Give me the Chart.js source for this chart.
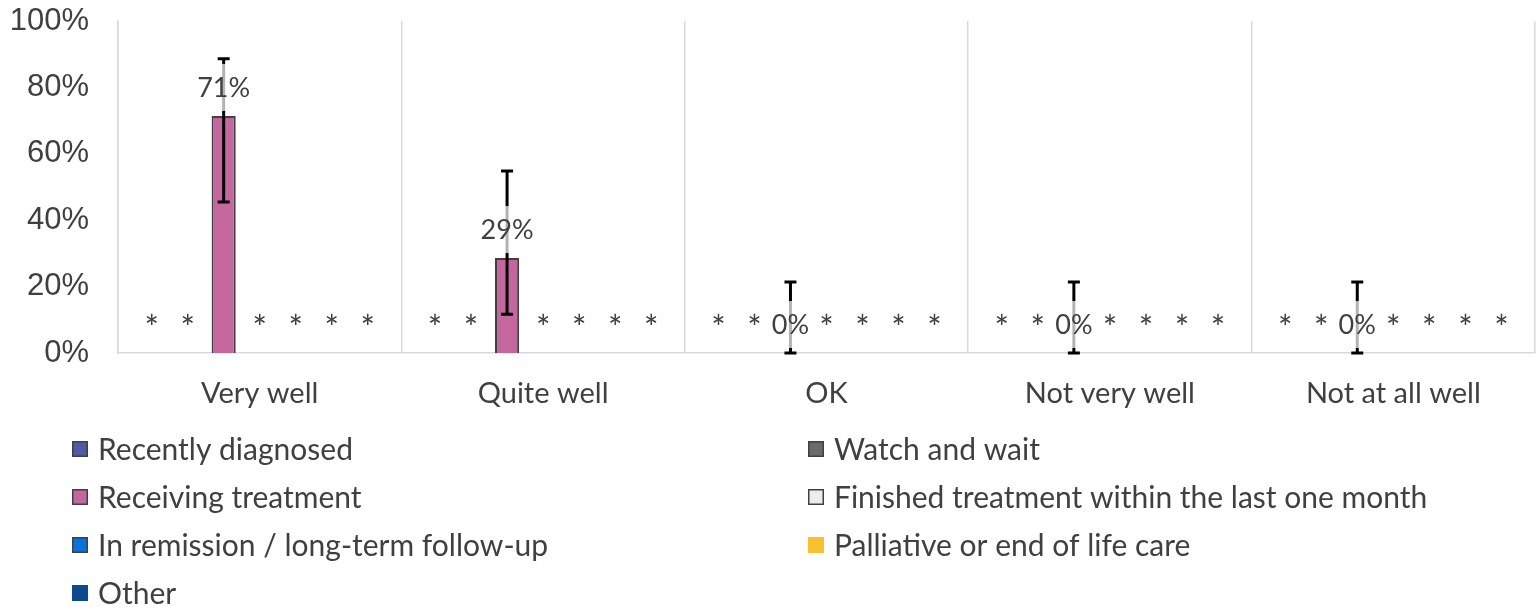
<!DOCTYPE html>
<html>
<head>
<meta charset="utf-8">
<script src="https://cdn.jsdelivr.net/npm/chart.js@4/dist/chart.umd.min.js"></script>
<style>
html,body{margin:0;padding:0;background:#fff;}
#wrap{position:relative;width:1540px;height:609px;}
</style>
</head>
<body>
<div id="wrap"><canvas id="c" width="1540" height="609"></canvas></div>
<script>
// ---- data ----
const categories = ['Very well', 'Quite well', 'OK', 'Not very well', 'Not at all well'];
const seriesNames = ['Recently diagnosed', 'Watch and wait', 'Receiving treatment',
  'Finished treatment within the last one month', 'In remission / long-term follow-up',
  'Palliative or end of life care', 'Other'];
// null = suppressed (shown as *)
const recentlyDiagnosed = [null, null, null, null, null];
const watchAndWait = [null, null, null, null, null];
const receivingTreatment = [71.4, 28.6, 0, 0, 0];
const finishedTreatment = [null, null, null, null, null];
const inRemission = [null, null, null, null, null];
const palliativeCare = [null, null, null, null, null];
const otherStage = [null, null, null, null, null];
const receivingLower = [45.5, 11.7, 0, 0, 0];
const receivingUpper = [88.6, 54.8, 21.4, 21.4, 21.4];
const yTickValues = [0, 20, 40, 60, 80, 100];

const seriesValues = [recentlyDiagnosed, watchAndWait, receivingTreatment, finishedTreatment,
  inRemission, palliativeCare, otherStage];
const errLow = [null, null, receivingLower, null, null, null, null];
const errHigh = [null, null, receivingUpper, null, null, null, null];

// ---- styles ----
const fills = ['#4E5BA6', '#6B6B6B', '#C4679F', '#E8EEEE', '#0A72D8', '#FBBF32', '#0B4A8C'];
const borders = ['#404040', '#404040', '#404040', '#404040', '#404040', null, null];
const TEXT = '#404040';
const CAL = 'Lato, "Open Sans", sans-serif';
const SUPPRESSED_LEVEL = 10;

const datasets = seriesNames.map((n, i) => ({
  label: n,
  data: seriesValues[i],
  backgroundColor: fills[i],
  borderColor: borders[i] || fills[i],
  borderWidth: borders[i] ? 2 : 0,
  categoryPercentage: 0.89,
  barPercentage: 0.67,
  errLow: errLow[i],
  errHigh: errHigh[i]
}));

const overlay = {
  id: 'overlay',
  afterDatasetsDraw(chart) {
    const ctx = chart.ctx;
    const y = chart.scales.y;
    chart.data.datasets.forEach((ds, di) => {
      const meta = chart.getDatasetMeta(di);
      meta.data.forEach((el, i) => {
        const x = el.x;
        const v = ds.data[i];
        if (v === null || v === undefined) {
          ctx.save();
          ctx.fillStyle = TEXT;
          ctx.font = '34px ' + CAL;
          ctx.textAlign = 'center';
          ctx.textBaseline = 'middle';
          ctx.fillText('*', x, y.getPixelForValue(SUPPRESSED_LEVEL) + 9);
          ctx.restore();
          return;
        }
        // error bar
        if (ds.errLow && ds.errHigh) {
          const yl = y.getPixelForValue(ds.errLow[i]);
          const yh = y.getPixelForValue(ds.errHigh[i]);
          ctx.save();
          ctx.strokeStyle = '#000';
          ctx.lineWidth = 3;
          ctx.beginPath();
          ctx.moveTo(x, yl); ctx.lineTo(x, yh);
          ctx.moveTo(x - 6, yl); ctx.lineTo(x + 6, yl);
          ctx.moveTo(x - 6, yh); ctx.lineTo(x + 6, yh);
          ctx.stroke();
          ctx.restore();
        }
        // label
        const txt = Math.round(v) + '%';
        const ly = y.getPixelForValue(v) - 29;
        ctx.save();
        ctx.font = '27px ' + CAL;
        const w = ctx.measureText(txt).width;
        ctx.fillStyle = 'rgba(255,255,255,0.7)';
        ctx.fillRect(x - w / 2 - 3, ly - 23, w + 6, 47);
        ctx.fillStyle = TEXT;
        ctx.textAlign = 'center';
        ctx.textBaseline = 'middle';
        ctx.fillText(txt, x, ly + 1);
        ctx.restore();
      });
    });
  },
  afterDraw(chart) {
    const ctx = chart.ctx;
    const colX = [72, 808];
    const rowY0 = 449, rowStep = 48;
    chart.data.datasets.forEach((ds, i) => {
      const col = i % 2, row = Math.floor(i / 2);
      const bx = colX[col], cy = rowY0 + row * rowStep;
      ctx.save();
      ctx.fillStyle = fills[i];
      ctx.fillRect(bx, cy - 8, 16, 16);
      if (borders[i]) {
        ctx.strokeStyle = borders[i];
        ctx.lineWidth = 1.5;
        ctx.strokeRect(bx + 0.75, cy - 7.25, 14.5, 14.5);
      }
      ctx.fillStyle = TEXT;
      ctx.font = '30px ' + CAL;
      ctx.textAlign = 'left';
      ctx.textBaseline = 'middle';
      ctx.fillText(ds.label, bx + 26, cy + 1);
      ctx.restore();
    });
  }
};

new Chart(document.getElementById('c'), {
  type: 'bar',
  data: { labels: categories, datasets },
  options: {
    responsive: false,
    animation: false,
    events: [],
    layout: { padding: { top: 21, right: 5, left: 0, bottom: 609 - 353 - 64 } },
    plugins: { legend: { display: false }, tooltip: { enabled: false } },
    scales: {
      x: {
        grid: { display: true, offset: true, color: '#D9D9D9', lineWidth: 1.5, drawTicks: false },
        border: { display: true, color: '#D9D9D9', width: 1.5 },
        ticks: { color: TEXT, font: { family: CAL, size: 29 }, padding: 23, maxRotation: 0 },
        afterFit(s) { s.height = 64; s.paddingLeft = 0; s.paddingRight = 0; }
      },
      y: {
        min: 0, max: 100,
        afterBuildTicks(s) { s.ticks = yTickValues.map(v => ({ value: v })); },
        grid: { display: false, drawTicks: false },
        border: { display: true, color: '#D9D9D9', width: 1.5 },
        ticks: {
          color: TEXT, padding: 29,
          font: { family: '"Liberation Sans", Arial, sans-serif', size: 31 },
          callback: v => v + '%'
        },
        afterFit(s) { s.width = 118; s.paddingTop = 0; s.paddingBottom = 0; }
      }
    }
  },
  plugins: [overlay]
});
</script>
</body>
</html>
